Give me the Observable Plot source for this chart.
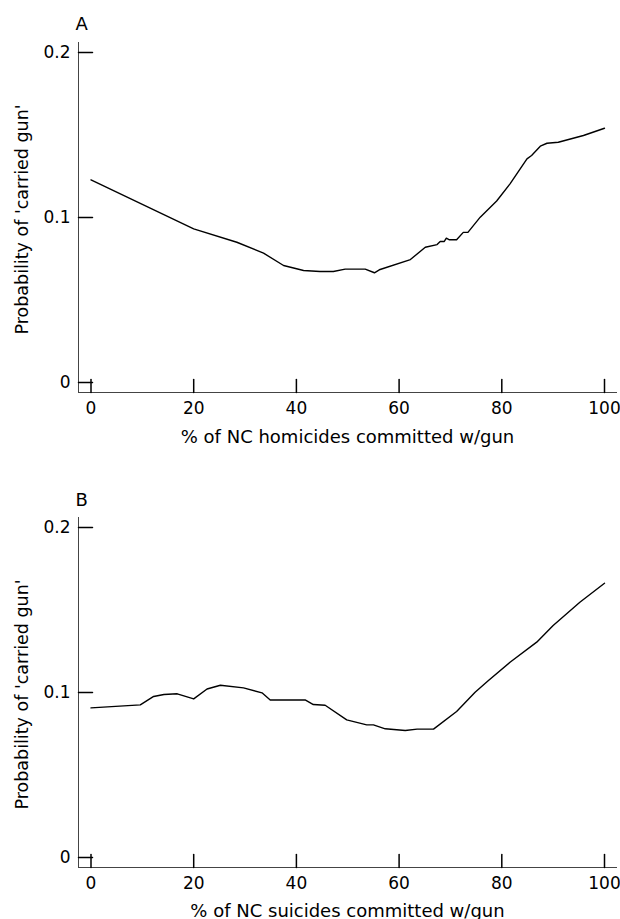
<!DOCTYPE html>
<html>
<head>
<meta charset="utf-8">
<script src="https://cdn.jsdelivr.net/npm/d3@7"></script>
<script src="https://cdn.jsdelivr.net/npm/@observablehq/plot@0.6"></script>
<style>
  html, body { margin: 0; padding: 0; background: #fff; }
  #chart { width: 620px; }
  #chart svg { display: block; }
</style>
</head>
<body>
<div id="chart"></div>
<script>
// Panel A: homicides
const homX = [0, 20, 28.4, 33.6, 37.5, 41.4, 44.6, 47.2, 49.5, 53.4, 55.2, 56.3, 62.2, 65.1, 67.4, 68, 68.8, 69.2, 69.8, 71.2, 72.5, 73.4, 75.8, 79, 81.6, 84.9, 85.8, 87.5, 88.8, 91, 95.9, 100];
const homY = [0.1228, 0.0931, 0.085, 0.0784, 0.0709, 0.0679, 0.0673, 0.0673, 0.0687, 0.0687, 0.0665, 0.0685, 0.0745, 0.082, 0.0836, 0.0855, 0.0855, 0.0875, 0.0865, 0.0865, 0.091, 0.091, 0.1002, 0.110, 0.1204, 0.1355, 0.1376, 0.1432, 0.145, 0.1456, 0.1497, 0.1541];
// Panel B: suicides
const suiX = [0, 9.6, 12.2, 14.2, 16.8, 20, 22.6, 25.2, 29.7, 33.3, 34.9, 41.7, 43.3, 45.6, 49.8, 53.7, 55, 57.3, 61.2, 63.5, 66.7, 71.2, 74.8, 77.4, 81.6, 86.8, 90, 95.2, 100];
const suiY = [0.0907, 0.0925, 0.0976, 0.0988, 0.0992, 0.0961, 0.1021, 0.1044, 0.1028, 0.0998, 0.0955, 0.0955, 0.0927, 0.0923, 0.0834, 0.0804, 0.0804, 0.078, 0.077, 0.0778, 0.0778, 0.0885, 0.1002, 0.1073, 0.1183, 0.1305, 0.1406, 0.1547, 0.1662];

const xTicks = [0, 20, 40, 60, 80, 100];
const yTicks = [0, 0.1, 0.2];
const panelLetters = ["A", "B"];
const xTitles = ["% of NC homicides committed w/gun", "% of NC suicides committed w/gun"];
const yTitle = "Probability of 'carried gun'";

const tickShape = {draw(ctx, l) { ctx.moveTo(0, 0); ctx.lineTo(0, -l); }};

function panel(xs, ys, letter, xTitle, opts) {
  const data = xs.map((x, i) => ({x, y: ys[i]}));
  return Plot.plot({
    width: 620,
    height: opts.height,
    marginTop: opts.marginTop,
    marginBottom: opts.marginBottom,
    marginLeft: 78,
    marginRight: 4,
    style: {fontFamily: "'DejaVu Sans', sans-serif", fontSize: "17px", background: "white", color: "black"},
    x: {domain: [0, 100], insetLeft: 12.5, insetRight: 12},
    y: {domain: [0, 0.2], insetTop: 10, insetBottom: 10},
    marks: [
      Plot.frame({anchor: "left", stroke: "#444"}),
      Plot.frame({anchor: "bottom", stroke: "#444"}),
      Plot.vector(xTicks, {x: d => d, frameAnchor: "bottom", length: 13, rotate: 0, anchor: "start", shape: tickShape, stroke: "black"}),
      Plot.vector(yTicks, {y: d => d, frameAnchor: "left", length: 14, rotate: 90, anchor: "start", shape: tickShape, stroke: "black"}),
      Plot.axisX({ticks: xTicks, tickSize: 0, tickPadding: 9, label: null, fontSize: 17}),
      Plot.axisY({ticks: yTicks, tickSize: 0, tickPadding: 8, tickFormat: d => String(d), label: null, fontSize: 17}),
      Plot.text([xTitle], {frameAnchor: "bottom", dy: opts.titleDy, lineAnchor: "bottom", textAnchor: "middle", fontSize: 18}),
      Plot.text([yTitle], {frameAnchor: "left", rotate: -90, dx: -50.5, dy: 2, lineAnchor: "bottom", textAnchor: "middle", fontSize: 17.5}),
      Plot.text([letter], {frameAnchor: "top-left", textAnchor: "start", lineAnchor: "bottom", dx: -3, dy: opts.letterDy, fontSize: 18}),
      Plot.line(data, {x: "x", y: "y", stroke: "black", strokeWidth: 1.4})
    ]
  });
}

const chart = document.getElementById("chart");
chart.appendChild(panel(homX, homY, panelLetters[0], xTitles[0], {height: 460, marginTop: 42, marginBottom: 68, titleDy: 50, letterDy: -13}));
chart.appendChild(panel(suiX, suiY, panelLetters[1], xTitles[1], {height: 459, marginTop: 57, marginBottom: 52, titleDy: 49, letterDy: -12}));
</script>
</body>
</html>
